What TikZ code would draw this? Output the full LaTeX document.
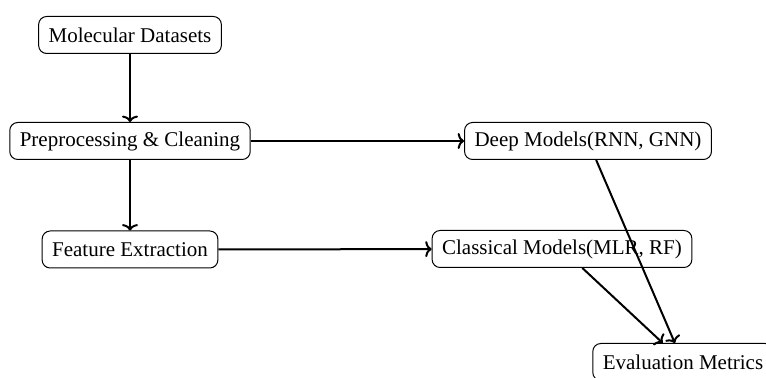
\documentclass[tikz,border=0pt]{standalone}
\usepackage{fontspec}
\setmainfont{Liberation Serif}
\usetikzlibrary{arrows.meta}
\begin{document}
\begin{tikzpicture}[x=0.5pt,y=-0.5pt,
  box/.style={draw,line width=0.5pt,rounded corners=4pt,inner xsep=5pt,minimum height=18.5pt,font=\fontsize{10.5}{12}\selectfont},
  arr/.style={-{To[width=8pt,length=3.2pt]},line width=1pt}]
\clip (0,0) rectangle (766,378);
\useasboundingbox (0,0) rectangle (766,378);
\node[box] (mol) at (130,35) {Molecular Datasets};
\node[box] (pre) at (130,141) {Preprocessing \& Cleaning};
\node[box] (fea) at (130,249.5) {Feature Extraction};
\node[box] (deep) at (588,141) {Deep Models(RNN, GNN)};
\node[box] (cla) at (562,249) {Classical Models(MLR, RF)};
\node[box] (eva) at (683,362) {Evaluation Metrics};
\draw[arr] (mol) -- (pre);
\draw[arr] (pre) -- (fea);
\draw[arr] (pre) -- (deep);
\draw[arr] (fea) -- (cla);
\draw[arr] (deep) -- (eva);
\draw[arr] (cla) -- (eva);
\end{tikzpicture}
\end{document}
